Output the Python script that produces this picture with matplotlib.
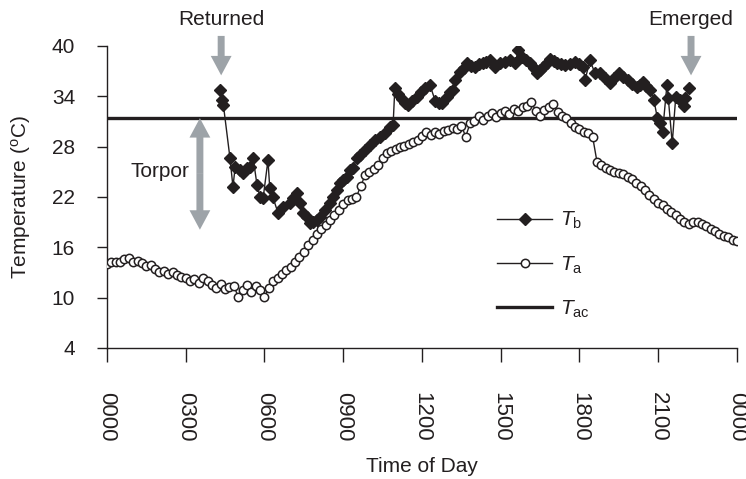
import matplotlib
matplotlib.use("Agg")
import matplotlib.pyplot as plt
import numpy as np

plt.rcParams['font.family'] = ['Liberation Sans', 'DejaVu Sans']
plt.rcParams['mathtext.fontset'] = 'custom'
plt.rcParams['mathtext.rm'] = 'Liberation Sans'
plt.rcParams['mathtext.it'] = 'Liberation Sans:italic'

# ambient temperature, every 10 min from 0000 to 2400
ta_min = np.arange(0, 1441, 10)
ta = [14.0, 14.2, 14.3, 14.2, 14.6, 14.7,
      14.3, 14.4, 14.1, 13.8, 13.9, 13.4,
      13.0, 13.2, 12.8, 13.1, 12.7, 12.5,
      12.3, 12.0, 12.2, 11.8, 12.3, 12.0,
      11.5, 11.2, 11.6, 11.0, 11.3, 11.4,
      10.1, 10.9, 11.5, 10.7, 11.4, 10.9,
      10.1, 11.2, 12.0, 12.4, 12.8, 13.3,
      13.7, 14.2, 14.9, 15.5, 16.3, 16.9,
      17.6, 18.2, 18.7, 19.3, 19.9, 20.4,
      21.2, 21.6, 21.8, 22.0, 23.3, 24.6,
      25.0, 25.3, 25.8, 26.6, 27.2, 27.5,
      27.7, 27.9, 28.1, 28.3, 28.6, 28.8,
      29.3, 29.8, 29.4, 29.7, 29.5, 29.9,
      30.0, 30.2, 30.1, 30.5, 29.2, 30.8,
      31.1, 31.6, 31.2, 31.7, 32.0, 31.5,
      32.0, 32.3, 31.9, 32.5, 32.2, 32.7,
      32.9, 33.3, 32.3, 31.6, 32.4, 32.7,
      33.1, 32.1, 31.6, 31.4, 30.8, 30.4,
      30.1, 29.8, 29.6, 29.2, 26.2, 25.8,
      25.4, 25.2, 25.0, 24.9, 24.7, 24.4,
      24.1, 23.7, 23.3, 22.8, 22.2, 21.8,
      21.3, 21.0, 20.6, 20.2, 19.8, 19.4,
      19.0, 18.8, 19.0, 19.0, 18.8, 18.5,
      18.2, 18.0, 17.6, 17.4, 17.2, 16.9,
      16.8]

# body temperature (minutes after midnight, value)
tb_min = [258, 262, 266, 281, 288, 293, 304, 311, 320, 327, 334, 343, 350, 357,
          368, 372, 379, 391, 402, 418, 426, 434, 441, 448, 457, 464, 471, 479,
          487, 498, 510, 517, 526, 533, 539, 549, 555, 563, 571, 578, 590, 601,
          613, 624, 635, 647, 654, 658, 666, 674, 681, 688, 698, 708, 718, 728,
          738, 750, 758, 766, 777, 784, 791, 795, 807, 815, 823, 831, 841, 850,
          859, 867, 875, 887, 898, 910, 921, 933, 940, 949, 958, 967, 975, 983,
          990, 997, 1005, 1013, 1021, 1029, 1038, 1047, 1058, 1070, 1079, 1088,
          1093, 1104, 1115, 1127, 1138, 1150, 1160, 1170, 1180, 1191, 1200, 1211,
          1218, 1225, 1233, 1241, 1250, 1258, 1263, 1270, 1280, 1283, 1292, 1300,
          1310, 1318, 1322, 1330]
tb = [34.8, 33.6, 33.0, 26.7, 23.2, 25.6, 25.2, 24.9, 25.4, 25.6, 26.7, 23.4, 22.0, 21.9,
      26.4, 23.1, 22.0, 20.1, 20.8, 21.3, 21.9, 22.5, 21.3, 20.1, 19.6, 18.9, 19.0, 19.3,
      19.6, 20.4, 21.3, 22.0, 22.8, 23.7, 24.0, 24.4, 25.2, 25.5, 26.7, 27.0, 27.6, 28.2,
      28.8, 29.2, 29.6, 30.3, 30.6, 35.0, 34.3, 33.7, 33.2, 33.0, 33.4, 33.9, 34.5, 35.0,
      35.4, 33.5, 33.2, 33.2, 33.9, 34.5, 34.8, 36.0, 36.9, 37.4, 38.0, 37.6, 37.5, 37.8,
      38.0, 38.1, 38.3, 37.5, 38.0, 38.1, 38.3, 38.0, 39.5, 38.7, 38.3, 38.0, 37.4, 36.8,
      37.1, 37.5, 38.0, 38.5, 38.2, 38.0, 37.8, 37.7, 37.9, 38.1, 37.8, 37.5,
      36.0, 38.3, 36.8, 36.8, 36.2, 35.6, 36.2, 36.8, 36.3, 35.9, 35.5, 35.1,
      35.4, 35.7, 35.2, 34.8, 33.6, 31.4, 30.8, 29.8, 35.4, 33.8, 28.4, 33.9,
      33.6, 32.8, 33.8, 35.0]

tac = 31.4
returned_h = 4.35
emerged_h = 22.25

xticks = np.arange(0, 25, 3)
xtick_labels = ['0000', '0300', '0600', '0900', '1200', '1500', '1800', '2100', '0000']
yticks = np.arange(4, 41, 6)

ink = '#231f20'
grey = '#9da3a8'

fig = plt.figure(figsize=(7.46, 4.79), dpi=100)
ax = fig.add_axes([0.1434, 0.2735, 0.8445, 0.6305])

ax.plot(np.array(tb_min) / 60, tb, color=ink, lw=1, marker='D', ms=6.3,
        mfc=ink, mec=ink, label=r'$T_{\mathrm{b}}$', zorder=3)
ax.plot(ta_min / 60, ta, color=ink, lw=1, marker='o', ms=6, mfc='white',
        mec=ink, mew=1.1, label=r'$T_{\mathrm{a}}$', zorder=3)
ax.axhline(tac, color=ink, lw=2.4, label=r'$T_{\mathrm{ac}}$', zorder=2)

ax.set_xlim(0, 24)
ax.set_ylim(4, 40)
ax.set_xticks(xticks)
ax.set_xticklabels(xtick_labels, rotation=-90, fontsize=16, color=ink)
ax.set_yticks(yticks)
ax.tick_params(axis='y', direction='out', length=7, width=1, pad=16, labelsize=15, colors=ink)
ax.tick_params(axis='x', direction='out', length=10, width=1, pad=22, colors=ink)
for s in ['top', 'right']:
    ax.spines[s].set_visible(False)
for s in ['left', 'bottom']:
    ax.spines[s].set_color(ink)
    ax.spines[s].set_linewidth(1)

ax.set_ylabel('Temperature ($^{\\mathrm{o}}$C)', fontsize=15, color=ink)
ax.yaxis.set_label_coords(-0.117, 0.5)
ax.set_xlabel('Time of Day', fontsize=15, color=ink)
ax.xaxis.set_label_coords(0.5, -0.36)

# arrows
simple = 'simple,head_length=14,head_width=15,tail_width=5'
for h, txt in [(returned_h, 'Returned'), (emerged_h, 'Emerged')]:
    ax.annotate('', xy=(h, 36.5), xytext=(h, 41.2), annotation_clip=False,
                arrowprops=dict(arrowstyle=simple, mutation_scale=1, color=grey,
                                shrinkA=0, shrinkB=0, lw=0))
    ax.text(h, 43.1, txt, ha='center', va='center', fontsize=15, color=ink, clip_on=False)

mid = 24.75
for end in [31.4, 18.1]:
    ax.annotate('', xy=(3.54, end), xytext=(3.54, mid),
                arrowprops=dict(arrowstyle=simple, mutation_scale=1, color=grey,
                                shrinkA=0, shrinkB=0, lw=0))
ax.text(2.0, 25.0, 'Torpor', ha='center', va='center', fontsize=15, color=ink)

ax.legend(loc='center left', bbox_to_anchor=(0.59, 0.275), frameon=False,
          fontsize=15, handlelength=2.6, handletextpad=0.4, labelspacing=1.1,
          numpoints=1, labelcolor=ink)

fig.savefig('out.png', dpi=100)
